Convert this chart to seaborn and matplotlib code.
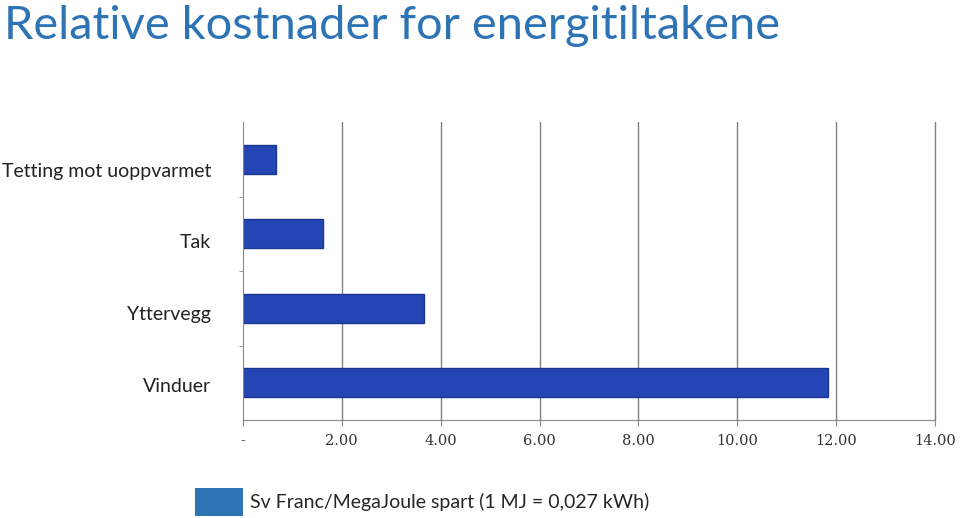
import matplotlib
matplotlib.use("Agg")
import matplotlib.pyplot as plt
import matplotlib.transforms as mtransforms
import seaborn as sns
import pandas as pd
from matplotlib.patches import Patch

categories = ["Tetting mot uoppvarmet", "Tak", "Yttervegg", "Vinduer"]
values = [0.67, 1.62, 3.66, 11.84]
xticks = [0, 2, 4, 6, 8, 10, 12, 14]
xticklabels = ["-", "2.00", "4.00", "6.00", "8.00", "10.00", "12.00", "14.00"]
series_name = "Sv Franc/MegaJoule spart (1 MJ = 0,027 kWh)"
title = "Relative kostnader for energitiltakene"

df = pd.DataFrame({"cat": categories, "val": values})

sns.set_style("white")
plt.rcParams["font.family"] = ["Lato", "DejaVu Sans"]

fig = plt.figure(figsize=(9.6, 5.18), dpi=100)
ax = fig.add_axes([0.253, 0.189, 0.721, 0.575])

sns.barplot(data=df, x="val", y="cat", orient="h", color="#2446B4",
            width=0.39, saturation=1, ax=ax, edgecolor="#1A3590", linewidth=1)

ax.set_xlim(0, 14)
ax.set_ylim(3.5, -0.5)
ax.set_xticks(xticks)
ax.set_xticklabels(xticklabels, fontsize=10.5, color="#333333", family=["DejaVu Serif"])
ax.set_yticks(range(len(categories)))
ax.set_yticklabels(categories, fontsize=14, color="#222222")
ax.tick_params(axis="y", length=0, pad=23)
ax.tick_params(axis="x", length=4, color="#888888", direction="out", pad=6, bottom=True)
ax.set_yticks([0.5, 1.5, 2.5], minor=True)
ax.tick_params(axis="y", which="minor", length=3, color="#888888", left=True)
ax.set_xlabel("")
ax.set_ylabel("")

# the labels on the slide sit slightly lower than the bar centres
label_shift_pt = [-7.9, -5.0, -3.6, -1.4]
for lab, dy in zip(ax.get_yticklabels(), label_shift_pt):
    lab.set_transform(lab.get_transform() +
                      mtransforms.ScaledTranslation(0, dy / 72, fig.dpi_scale_trans))

for x in xticks[1:]:
    ax.axvline(x, color="#808080", linewidth=1, zorder=0, clip_on=False)
ax.set_axisbelow(True)

for s in ["top", "right"]:
    ax.spines[s].set_visible(False)
ax.spines["left"].set_color("#888888")
ax.spines["bottom"].set_color("#888888")

fig.text(0.004, 0.99, title, fontsize=33.8, color="#2E74B5",
         ha="left", va="top")

fig.legend(handles=[Patch(facecolor="#2E75B6", edgecolor="none", label=series_name)],
           loc="lower left", bbox_to_anchor=(0.203, 0.004), frameon=False,
           borderpad=0, borderaxespad=0,
           fontsize=14, handlelength=2.45, handleheight=1.8, handletextpad=0.4)

fig.savefig("out.png", dpi=100)
